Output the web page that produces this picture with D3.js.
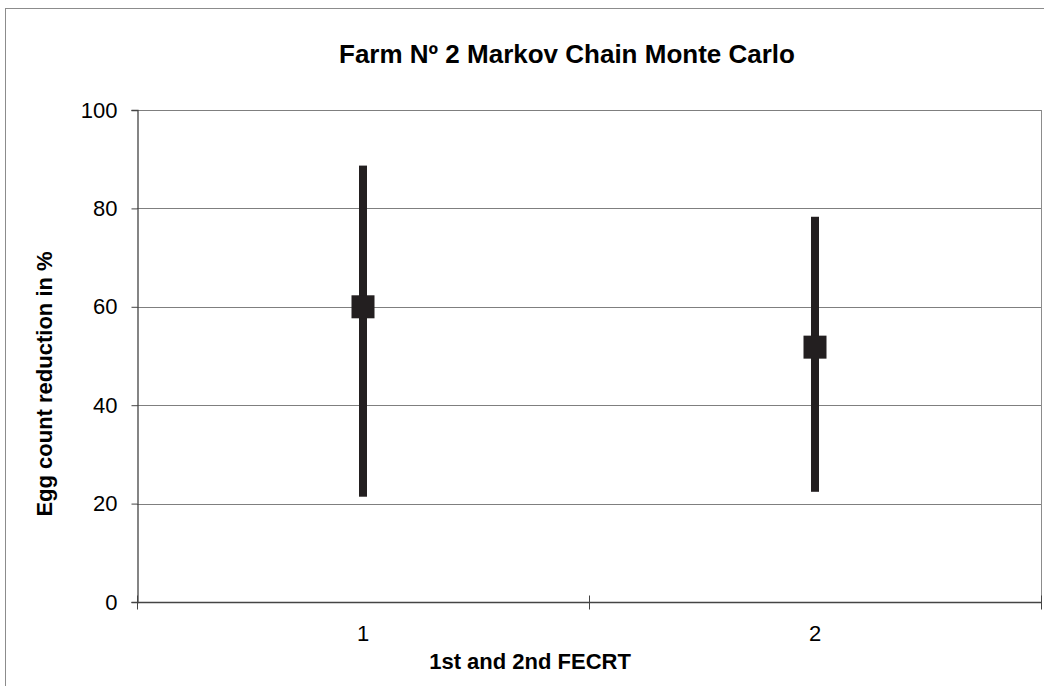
<!DOCTYPE html>
<html>
<head>
<meta charset="utf-8">
<script src="https://cdn.jsdelivr.net/npm/d3@7"></script>
<style>
  html, body { margin: 0; padding: 0; background: #fff; }
  svg { display: block; font-family: "Liberation Sans", Arial, sans-serif; }
</style>
</head>
<body>
<svg id="chart" width="1044" height="686"></svg>
<script>
// FECRT rounds and MCMC estimates of egg count reduction (%)
const categories = ["1", "2"];
const means = [60, 51.8];
const lower = [21.4, 22.4];
const upper = [88.7, 78.3];
const yTicks = [0, 20, 40, 60, 80, 100];

const svg = d3.select("#chart");
const W = 1044, H = 686;
const plot = { left: 137, right: 1041, top: 110, bottom: 602 };

// outer chart frame
svg.append("rect")
  .attr("x", 5.5).attr("y", 8.5)
  .attr("width", W).attr("height", H)
  .attr("fill", "#fff").attr("stroke", "#8c8c8c").attr("stroke-width", 1);

const x = d3.scaleBand().domain(categories).range([plot.left, plot.right]).padding(0);
const y = d3.scaleLinear().domain([0, 100]).range([plot.bottom, plot.top]);

// horizontal gridlines
svg.append("g").selectAll("line").data(yTicks.filter(d => d > 0)).join("line")
  .attr("x1", plot.left).attr("x2", plot.right)
  .attr("y1", d => Math.round(y(d)) + 0.5).attr("y2", d => Math.round(y(d)) + 0.5)
  .attr("stroke", "#7f7f7f").attr("stroke-width", 1);

// right border of plot area
svg.append("line")
  .attr("x1", plot.right + 0.5).attr("x2", plot.right + 0.5)
  .attr("y1", plot.top).attr("y2", plot.bottom)
  .attr("stroke", "#8c8c8c").attr("stroke-width", 1);

// y axis
const yAxis = d3.axisLeft(y).tickValues(yTicks).tickSize(6).tickPadding(14);
const gy = svg.append("g").attr("transform", `translate(${plot.left + 0.5},0)`).call(yAxis);
gy.select(".domain").attr("stroke", "#444").attr("stroke-width", 1.3);
gy.selectAll(".tick line").attr("stroke", "#444");
gy.selectAll(".tick text")
  .attr("font-size", 22).attr("fill", "#000")
  .attr("font-family", "Liberation Sans, Arial, sans-serif");

// x axis: ticks on category boundaries, labels at centers
const gx = svg.append("g").attr("transform", `translate(0,${plot.bottom + 0.5})`);
gx.append("line")
  .attr("x1", plot.left).attr("x2", plot.right + 1)
  .attr("stroke", "#444").attr("stroke-width", 1.6);
const boundaries = [plot.left, x("2"), plot.right];
gx.selectAll("line.tk").data(boundaries).join("line").attr("class", "tk")
  .attr("x1", d => Math.round(d) + 0.5).attr("x2", d => Math.round(d) + 0.5)
  .attr("y1", -7).attr("y2", 7)
  .attr("stroke", "#444").attr("stroke-width", 1);
gx.selectAll("text").data(categories).join("text")
  .attr("x", d => x(d) + x.bandwidth() / 2)
  .attr("y", 38)
  .attr("text-anchor", "middle")
  .attr("font-size", 22).attr("fill", "#000")
  .text(d => d);

// error bars
const marks = svg.append("g");
marks.selectAll("rect.err").data(categories).join("rect").attr("class", "err")
  .attr("x", d => x(d) + x.bandwidth() / 2 - 4)
  .attr("width", 8)
  .attr("y", (d, i) => y(upper[i]))
  .attr("height", (d, i) => y(lower[i]) - y(upper[i]))
  .attr("fill", "#231f20");

// mean markers
marks.selectAll("rect.mean").data(categories).join("rect").attr("class", "mean")
  .attr("x", d => x(d) + x.bandwidth() / 2 - 11.5)
  .attr("y", (d, i) => y(means[i]) - 11.5)
  .attr("width", 23).attr("height", 23)
  .attr("fill", "#231f20");

// title
svg.append("text")
  .attr("x", 567).attr("y", 63)
  .attr("text-anchor", "middle")
  .attr("font-size", 26).attr("font-weight", "bold")
  .text("Farm Nº 2 Markov Chain Monte Carlo");

// axis titles
svg.append("text")
  .attr("x", 530).attr("y", 669)
  .attr("text-anchor", "middle")
  .attr("font-size", 22).attr("font-weight", "bold")
  .text("1st and 2nd FECRT");

svg.append("text")
  .attr("transform", "translate(52,384) rotate(-90)")
  .attr("text-anchor", "middle")
  .attr("font-size", 22).attr("font-weight", "bold")
  .text("Egg count reduction in %");
</script>
</body>
</html>
